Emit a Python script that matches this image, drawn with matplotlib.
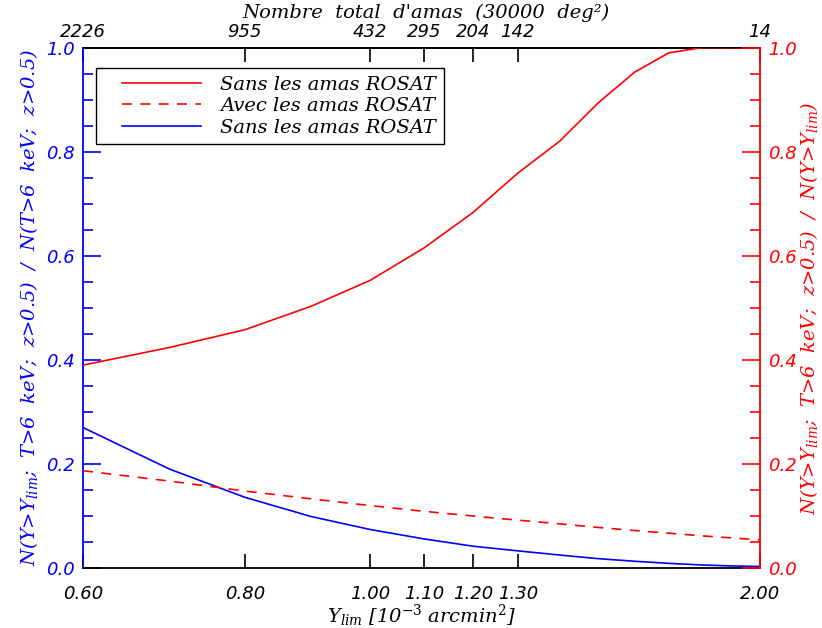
import matplotlib
matplotlib.use("Agg")
import numpy as np
import matplotlib.pyplot as plt
from matplotlib.ticker import FixedLocator, NullLocator, MultipleLocator, FuncFormatter
from matplotlib.lines import Line2D
from matplotlib.legend_handler import HandlerLine2D

# ---- data ----
ylim_vals = [0.6, 0.7, 0.8, 0.9, 1.0, 1.1, 1.2, 1.3, 1.4, 1.5, 1.6, 1.7, 1.8, 1.9, 2.0]
red_sans = [0.390, 0.424, 0.458, 0.503, 0.553, 0.615, 0.683, 0.759, 0.820, 0.894,
            0.953, 0.990, 1.0, 1.0, 1.0]
red_avec = [0.187, 0.167, 0.148, 0.133, 0.120, 0.109, 0.100, 0.092, 0.085, 0.078,
            0.072, 0.067, 0.062, 0.058, 0.054]
blue_sans = [0.270, 0.190, 0.136, 0.099, 0.074, 0.056, 0.042, 0.033, 0.025, 0.018,
             0.013, 0.009, 0.006, 0.004, 0.003]
bottom_ticks = [0.60, 0.80, 1.00, 1.10, 1.20, 1.30, 2.00]
top_counts = [2226, 955, 432, 295, 204, 142, 14]
legend_labels = ["Sans les amas ROSAT", "Avec les amas ROSAT", "Sans les amas ROSAT"]

plt.rcParams['mathtext.fontset'] = 'dejavuserif'
SERIF = dict(family='DejaVu Serif', style='italic')
FS = 13
LFS = 14

fig = plt.figure(figsize=(8.22, 6.28), dpi=100)
ax = fig.add_axes([0.101, 0.0955, 0.8236, 0.8285])
ax2 = ax.twinx()

lw = 1.2
dash = (0, (6, 5))
ax.plot(ylim_vals, blue_sans, color='blue', lw=lw)
ax2.plot(ylim_vals, red_sans, color='red', lw=lw)
ax2.plot(ylim_vals, red_avec, color='red', lw=lw, ls=dash)

for a in (ax, ax2):
    a.set_xscale('log')
    a.set_xlim(0.6, 2.0)
    a.set_ylim(0, 1.0)

ax.xaxis.set_major_locator(FixedLocator(bottom_ticks))
ax.xaxis.set_minor_locator(NullLocator())
ax.xaxis.set_major_formatter(FuncFormatter(lambda v, p: f"{v:.2f}"))

for a in (ax, ax2):
    a.yaxis.set_major_locator(MultipleLocator(0.2))
    a.yaxis.set_minor_locator(MultipleLocator(0.05))
    a.yaxis.set_major_formatter(FuncFormatter(lambda v, p: f"{v:.1f}"))

ax.tick_params(axis='x', which='major', direction='in', length=10, width=1.2,
               colors='black', labelsize=FS, pad=12, top=False)
ax.tick_params(axis='y', which='major', direction='in', length=13, width=1.2,
               colors='blue', labelsize=FS, pad=6, right=False)
ax.tick_params(axis='y', which='minor', direction='in', length=7, width=1.2,
               colors='blue', right=False)
ax2.tick_params(axis='y', which='major', direction='in', length=13, width=1.2,
                colors='red', labelsize=FS, pad=6, left=False)
ax2.tick_params(axis='y', which='minor', direction='in', length=7, width=1.2,
                colors='red', left=False)

for lab in ax.get_xticklabels() + ax.get_yticklabels() + ax2.get_yticklabels():
    lab.set_fontstyle('italic')

ax.spines['left'].set_color('blue')
ax.spines['right'].set_visible(False)
ax2.spines['left'].set_visible(False)
ax2.spines['right'].set_color('red')
for s in ('left', 'bottom', 'top'):
    ax.spines[s].set_linewidth(1.3)
ax2.spines['right'].set_linewidth(1.3)
ax2.spines['top'].set_visible(False)
ax2.spines['bottom'].set_visible(False)

# top axis
sec = ax.secondary_xaxis('top')
sec.set_xscale('log')
sec.xaxis.set_major_locator(FixedLocator(bottom_ticks))
sec.xaxis.set_minor_locator(NullLocator())
sec.xaxis.set_major_formatter(FuncFormatter(
    lambda v, p: str(top_counts[min(range(len(bottom_ticks)), key=lambda i: abs(bottom_ticks[i] - v))])))
sec.tick_params(axis='x', which='major', direction='in', length=10, width=1.2,
                labelsize=FS, pad=5)
for lab in sec.get_xticklabels():
    lab.set_fontstyle('italic')
sec.spines['top'].set_linewidth(1.3)
fig.text(0.518, 1 - 13 / 628, "Nombre  total  d'amas  (30000  deg²)", fontsize=LFS,
         ha='center', va='center', **SERIF)

ax.set_xlabel(r"Y$_{lim}$ [10$^{-3}$ arcmin$^2$]", fontsize=LFS, labelpad=0, **SERIF)
ax.set_ylabel(r"N(Y>Y$_{lim}$;  T>6  keV;  z>0.5)  /  N(T>6  keV;  z>0.5)", fontsize=LFS,
              color='blue', labelpad=4, **SERIF)
ax2.set_ylabel(r"N(Y>Y$_{lim}$;  T>6  keV;  z>0.5)  /  N(Y>Y$_{lim}$)", fontsize=LFS,
               color='red', labelpad=1, **SERIF)


class PadHandler(HandlerLine2D):
    def get_xdata(self, legend, xdescent, ydescent, width, height, fontsize):
        xd = np.array([-xdescent + 13, -xdescent + width])
        return xd, np.array([-xdescent + 0.5 * width])


handles = [Line2D([], [], color='red', lw=lw),
           Line2D([], [], color='red', lw=lw, ls=dash),
           Line2D([], [], color='blue', lw=lw)]
leg = ax2.legend(handles, legend_labels, loc='upper left',
                 bbox_to_anchor=(0.019, 0.9615), borderaxespad=0, fancybox=False,
                 framealpha=1, edgecolor='black', handlelength=5.0, handletextpad=1.0,
                 borderpad=0.4, labelspacing=0.18,
                 handler_map={Line2D: PadHandler()},
                 prop=dict(family='DejaVu Serif', style='italic', size=LFS))
leg.get_frame().set_linewidth(1.0)

fig.savefig("out.png", dpi=100)
